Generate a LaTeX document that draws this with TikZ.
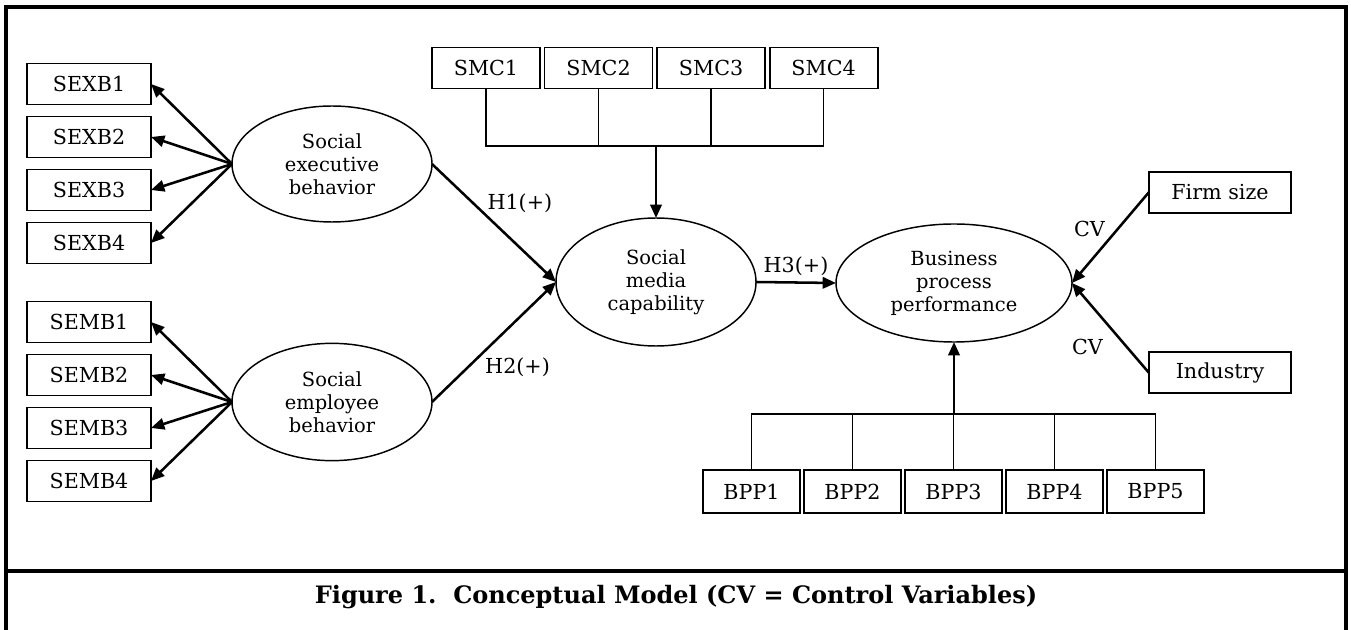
\documentclass[tikz,border=0pt]{standalone}
\usepackage{fontspec}
\setmainfont{DejaVu Serif}
\usetikzlibrary{arrows.meta,positioning,shapes.geometric}
\tikzset{
  ind/.style={draw, line width=1.4pt, inner sep=0pt, outer sep=0pt, minimum width=93pt, minimum height=30.75pt, font=\fontsize{15.5}{18}\selectfont},
  lat/.style={draw, ellipse, line width=1.1pt, inner sep=0pt, outer sep=0pt, align=center, font=\fontsize{14.6}{17.25}\selectfont},
  link/.style={-{Triangle[length=10pt,width=8.5pt]}, line width=1.9pt},
  bus/.style={line width=1.3pt}
}

\begin{document}
\begin{tikzpicture}[
  x=0.75pt, y=-0.75pt,
  lbl/.style={font=\fontsize{15.5}{18}\selectfont, inner sep=1pt},
  frame/.style={line width=2.4pt}
]
  \useasboundingbox (0,0) rectangle (1351,630);

  % --- outer frame and caption rule ---
  \draw[frame] (6,640) -- (6,7) -- (1346,7) -- (1346,640);
  \draw[frame] (6,571) -- (1346,571);

  % --- executive indicators ---
  \node[ind] (sexb1) at (89,84) {SEXB1};
  \node[ind, below=9pt of sexb1] (sexb2) {SEXB2};
  \node[ind, below=9pt of sexb2] (sexb3) {SEXB3};
  \node[ind, below=9pt of sexb3] (sexb4) {SEXB4};

  % --- employee indicators ---
  \node[ind] (semb1) at (89,322) {SEMB1};
  \node[ind, below=9pt of semb1] (semb2) {SEMB2};
  \node[ind, below=9pt of semb2] (semb3) {SEMB3};
  \node[ind, below=9pt of semb3] (semb4) {SEMB4};

  % --- latent constructs ---
  \node[lat, minimum width=150pt, minimum height=87pt] (seb) at (332,164) {Social\\executive\\behavior};
  \node[lat, minimum width=150pt, minimum height=88pt] (semb) at (332,402) {Social\\employee\\behavior};
  \node[lat, minimum width=150pt, minimum height=96pt] (smc) at (656,282) {Social\\media\\capability};
  \node[lat, minimum width=177pt, minimum height=88.5pt] (bpp) at (954,283) {Business\\process\\performance};

  \draw[link] (seb.west) -- (sexb1.east); \draw[link] (seb.west) -- (sexb2.east);
  \draw[link] (seb.west) -- (sexb3.east); \draw[link] (seb.west) -- (sexb4.east);
  \draw[link] (semb.west) -- (semb1.east); \draw[link] (semb.west) -- (semb2.east);
  \draw[link] (semb.west) -- (semb3.east); \draw[link] (semb.west) -- (semb4.east);

  % --- hypotheses ---
  \draw[link] (seb.east) -- (smc.west)
    node[lbl, pos=0.33, right=9pt] {H1(+)};
  \draw[link] (semb.east) -- (smc.west)
    node[lbl, pos=0.29, right=11pt] {H2(+)};
  \draw[link] (smc.east) -- (bpp.west)
    node[lbl, midway, above=3pt] {H3(+)};

  % --- SMC indicators ---
  \node[ind, minimum width=81pt] (smc1) at (486,68) {SMC1};
  \node[ind, minimum width=81pt, right=3.4pt of smc1] (smc2) {SMC2};
  \node[ind, minimum width=81pt, right=3.4pt of smc2] (smc3) {SMC3};
  \node[ind, minimum width=81pt, right=3.4pt of smc3] (smc4) {SMC4};
  \coordinate (smcbus) at (656,146);
  \draw[bus] (smc1.south) -- (smc1.south |- smcbus) -- (smc4.south |- smcbus) -- (smc4.south);
  \draw[bus] (smc2.south) -- (smc2.south |- smcbus); \draw[bus] (smc3.south) -- (smc3.south |- smcbus);
  \draw[link] (smcbus) -- (smc.north);

  % --- control variables ---
  \node[ind, minimum width=107pt] (firm) at (1220,192.5) {Firm size};
  \node[ind, minimum width=107pt] (industry) at (1220,372.5) {Industry};
  \draw[link] (firm.west) -- (bpp.east)
    node[lbl, pos=0.4, left=8pt] {CV};
  \draw[link] (industry.west) -- (bpp.east)
    node[lbl, pos=0.285, left=16pt] {CV};

  % --- BPP indicators ---
  \node[ind, minimum width=72.75pt, minimum height=32pt] (bpp1) at (751.5,491.5) {BPP1};
  \node[ind, minimum width=72.75pt, minimum height=32pt, right=3pt of bpp1] (bpp2) {BPP2};
  \node[ind, minimum width=72.75pt, minimum height=32pt, right=3pt of bpp2] (bpp3) {BPP3};
  \node[ind, minimum width=72.75pt, minimum height=32pt, right=3pt of bpp3] (bpp4) {BPP4};
  \node[ind, minimum width=72.75pt, minimum height=32pt, right=3pt of bpp4] (bpp5) {BPP5};
  \coordinate (bppbus) at (954,414);
  \draw[bus] (bpp1.north) -- (bpp1.north |- bppbus) -- (bpp5.north |- bppbus) -- (bpp5.north);
  \draw[bus] (bpp2.north) -- (bpp2.north |- bppbus); \draw[bus] (bpp3.north) -- (bpp3.north |- bppbus);
  \draw[bus] (bpp4.north) -- (bpp4.north |- bppbus);
  \draw[link] (bppbus) -- (bpp.south);

  % --- caption ---
  \node[font=\fontsize{18}{21}\selectfont\bfseries, anchor=base] (cap) at (676,603) {Figure 1.\ \ Conceptual Model (CV = Control Variables)};
\end{tikzpicture}
\end{document}
